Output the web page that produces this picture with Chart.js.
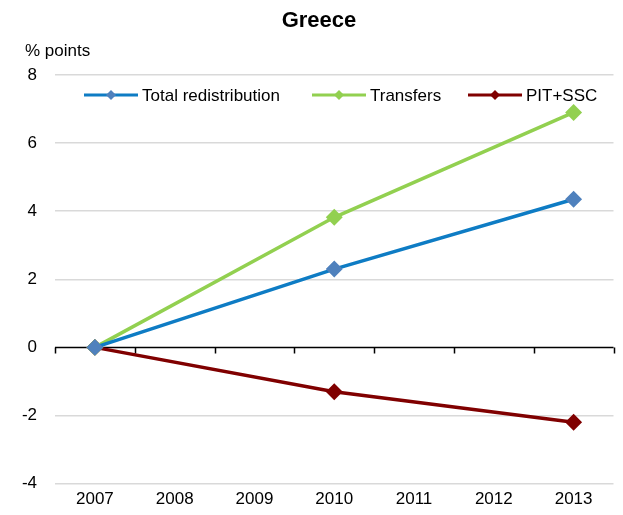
<!DOCTYPE html>
<html lang="en">
<head>
    <meta charset="UTF-8">
    <title>Greece</title>
    <script src="https://cdn.jsdelivr.net/npm/chart.js"></script>
    <style>
        body { margin: 0; background: #fff; }
        #wrap { width: 623px; height: 515px; }
    </style>
</head>
<body>
    <div id="wrap"><canvas id="chart" width="623" height="515"></canvas></div>

    <script>
        // Data
        const years = ['2007', '2008', '2009', '2010', '2011', '2012', '2013'];
        const totalRedistribution = [0, null, null, 2.3, null, null, 4.35];
        const transfers = [0, null, null, 3.82, null, null, 6.9];
        const pitSsc = [0, null, null, -1.3, null, null, -2.2];
        const yTicks = [-4, -2, 0, 2, 4, 6, 8];

        const FONT = "'Liberation Sans Narrow', 'Liberation Sans', Arial, sans-serif";

        const seriesStyle = [
            { label: 'Total redistribution', data: totalRedistribution, line: '#0e7cc4', marker: '#4f81bd' },
            { label: 'Transfers', data: transfers, line: '#92d050', marker: '#92d050' },
            { label: 'PIT+SSC', data: pitSsc, line: '#800000', marker: '#800000' }
        ];

        // Title, axis unit, zero line with ticks, legend
        const decorations = {
            id: 'decorations',
            beforeDatasetsDraw(chart) {
                const ctx = chart.ctx;
                const y = chart.scales.y;
                const area = chart.chartArea;
                const y0 = Math.round(y.getPixelForValue(0)) + 0.5;
                ctx.save();
                ctx.strokeStyle = '#000';
                ctx.lineWidth = 1.5;
                ctx.beginPath();
                ctx.moveTo(area.left, y0);
                ctx.lineTo(area.right, y0);
                const step = (area.right - area.left) / years.length;
                for (let i = 0; i <= years.length; i++) {
                    const px = Math.round(area.left + i * step) + 0.5;
                    ctx.moveTo(px, y0);
                    ctx.lineTo(px, y0 + 6);
                }
                ctx.stroke();
                ctx.restore();
            },
            afterDraw(chart) {
                const ctx = chart.ctx;
                ctx.save();
                ctx.fillStyle = '#000';
                ctx.textBaseline = 'middle';
                ctx.textAlign = 'center';
                ctx.font = "bold 22px 'Liberation Sans', Arial, sans-serif";
                ctx.fillText('Greece', 319, 21);

                ctx.textAlign = 'left';
                ctx.font = '17px ' + FONT;
                ctx.fillText('% points', 25, 51);

                // legend
                const items = [
                    { x: 84, s: seriesStyle[0] },
                    { x: 312, s: seriesStyle[1] },
                    { x: 468, s: seriesStyle[2] }
                ];
                const ly = 95;
                items.forEach(it => {
                    ctx.strokeStyle = it.s.line;
                    ctx.lineWidth = 3;
                    ctx.beginPath();
                    ctx.moveTo(it.x, ly);
                    ctx.lineTo(it.x + 54, ly);
                    ctx.stroke();
                    ctx.fillStyle = it.s.marker;
                    ctx.beginPath();
                    ctx.moveTo(it.x + 27, ly - 5);
                    ctx.lineTo(it.x + 32, ly);
                    ctx.lineTo(it.x + 27, ly + 5);
                    ctx.lineTo(it.x + 22, ly);
                    ctx.closePath();
                    ctx.fill();
                    ctx.fillStyle = '#000';
                    ctx.fillText(it.s.label, it.x + 58, ly + 1);
                });
                ctx.restore();
            }
        };

        new Chart(document.getElementById('chart'), {
            type: 'line',
            data: {
                labels: years,
                datasets: seriesStyle.map(s => ({
                    label: s.label,
                    data: s.data,
                    borderColor: s.line,
                    backgroundColor: s.marker,
                    pointBorderColor: s.marker,
                    pointBackgroundColor: s.marker,
                    pointStyle: 'rectRot',
                    pointRadius: 6,
                    borderWidth: 3.5,
                    spanGaps: true,
                    tension: 0
                }))
            },
            options: {
                responsive: false,
                animation: false,
                layout: { padding: { top: 75, right: 1, left: 0, bottom: 7 } },
                plugins: {
                    legend: { display: false },
                    title: { display: false },
                    tooltip: { enabled: false }
                },
                scales: {
                    x: {
                        offset: true,
                        grid: { display: false },
                        border: { display: false },
                        ticks: {
                            color: '#000',
                            font: { size: 17, family: FONT },
                            padding: -2,
                            maxRotation: 0
                        }
                    },
                    y: {
                        min: -4,
                        max: 8,
                        afterBuildTicks(axis) {
                            axis.ticks = yTicks.map(v => ({ value: v }));
                        },
                        afterFit(axis) { axis.width = 55; },
                        grid: {
                            color: ctx => ctx.tick && ctx.tick.value === 0 ? 'rgba(0,0,0,0)' : '#d9d9d9',
                            lineWidth: 1.5,
                            drawTicks: false
                        },
                        border: { display: false },
                        ticks: {
                            color: '#000',
                            font: { size: 17, family: FONT },
                            padding: 18
                        }
                    }
                }
            },
            plugins: [decorations]
        });
    </script>
</body>
</html>
